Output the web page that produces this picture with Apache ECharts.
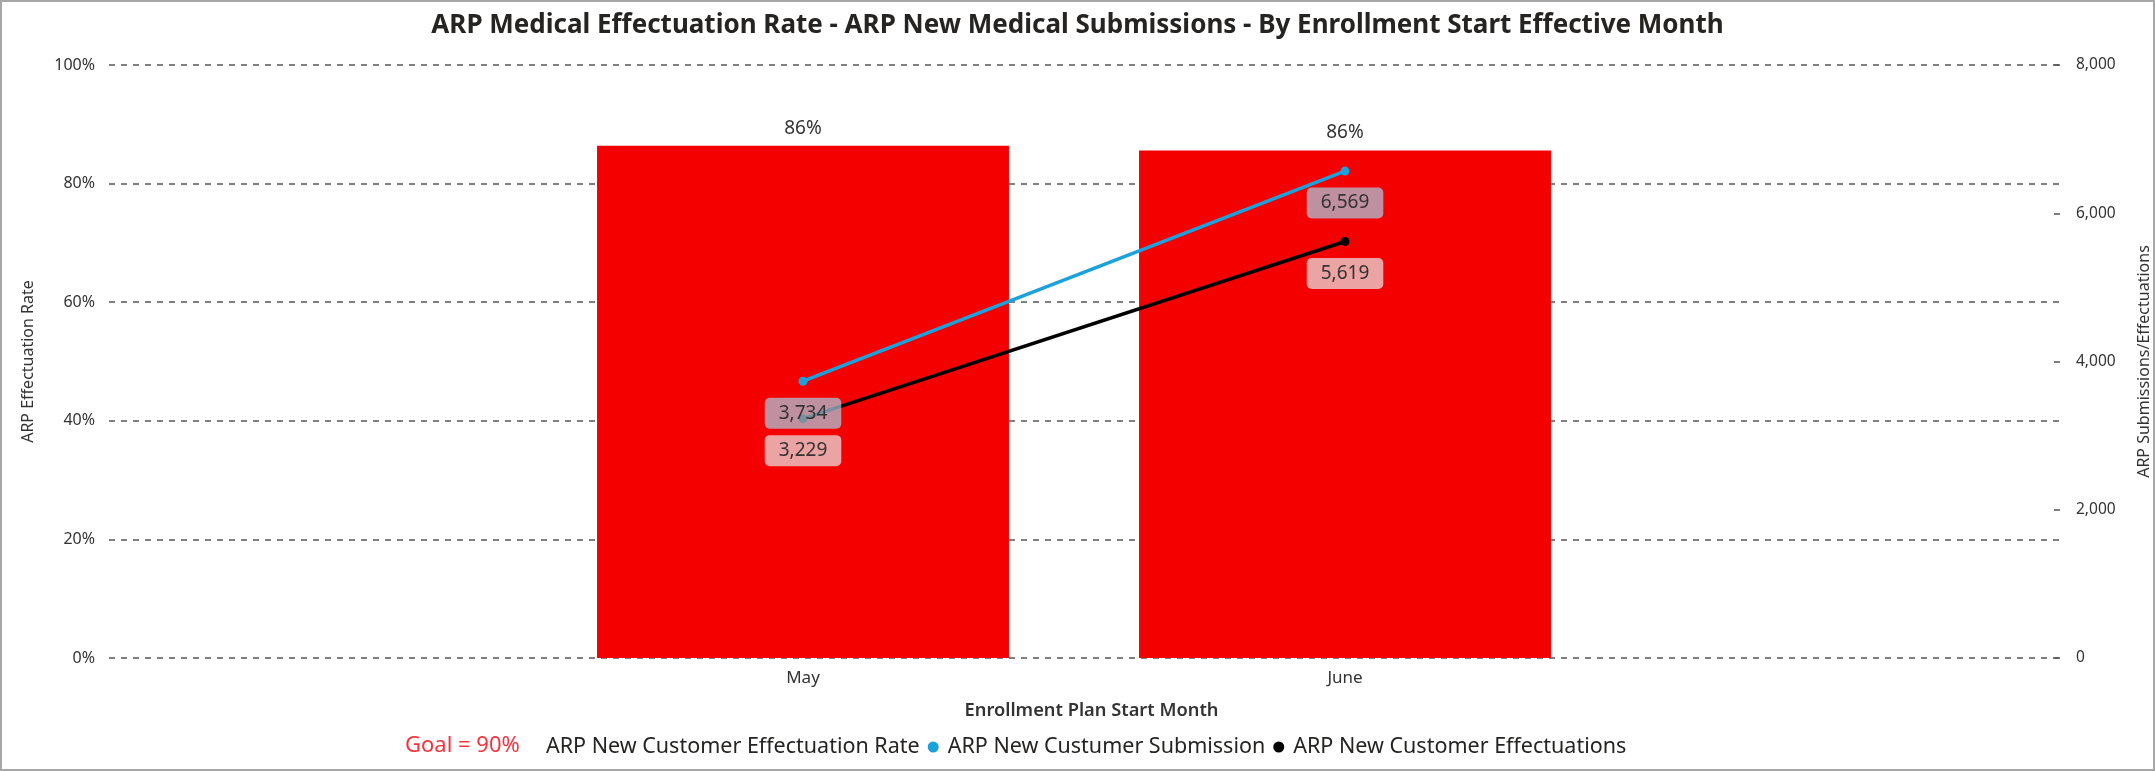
<!DOCTYPE html>
<html>
<head>
<meta charset="utf-8">
<script src="https://cdn.jsdelivr.net/npm/echarts@6/dist/echarts.min.js"></script>
<style>
  html, body { margin: 0; padding: 0; background: #fff; }
  #chart { width: 2155px; height: 771px; box-sizing: border-box; border: 2px solid #a6a6a6; }
</style>
</head>
<body>
<div id="chart"></div>
<script>
// values
const months = ['May', 'June'];
const effectuationRate = [0.864, 0.856];
const submissions = [3734, 6569];
const effectuations = [3229, 5619];
const goalText = 'Goal = 90%';

const FONT = "'Segoe UI', 'Noto Sans', sans-serif";
const TXT = '#333';

var myChart = echarts.init(document.getElementById('chart'));

const fmtNum = v => Number(v).toLocaleString('en-US');

var option = {
  textStyle: { fontFamily: FONT },
  title: [
    {
      text: 'ARP Medical Effectuation Rate - ARP New Medical Submissions - By Enrollment Start Effective Month',
      left: 'center', top: 6,
      textStyle: { fontSize: 26, fontWeight: 'bold', color: '#252423', fontFamily: FONT }
    },
    {
      text: goalText,
      left: 398, top: 728,
      textStyle: { fontSize: 22, fontWeight: 'normal', color: '#F5333F', fontFamily: FONT }
    }
  ],
  legend: {
    left: 515, top: 729,
    itemGap: 8, itemWidth: 19, itemHeight: 11,
    textStyle: { fontSize: 21.5, color: '#252423', fontFamily: FONT },
    data: [
      { name: 'ARP New Customer Effectuation Rate', icon: 'none' },
      { name: 'ARP New Custumer Submission', icon: 'circle' },
      { name: 'ARP New Customer Effectuations', icon: 'circle' }
    ]
  },
  grid: [
    { left: 107, right: 93, top: 63, bottom: 111, outerBoundsMode: 'none' },
    { left: 530, right: 537, top: 63, bottom: 111, outerBoundsMode: 'none' }
  ],
  xAxis: [
    {
      gridIndex: 0, type: 'category', data: months,
      axisLine: { show: false }, axisTick: { show: false }, axisLabel: { show: false },
      name: 'Enrollment Plan Start Month', nameLocation: 'middle', nameGap: 44,
      nameTextStyle: { fontSize: 18.3, fontWeight: 600, color: TXT, padding: [0, 0, 0, 14] }
    },
    {
      gridIndex: 1, type: 'category', data: months,
      axisLine: { show: false }, axisTick: { show: false },
      axisLabel: { fontSize: 17, color: TXT, margin: 12 }
    }
  ],
  yAxis: [
    {
      gridIndex: 0, type: 'value', min: 0, max: 1, interval: 0.2,
      axisLine: { show: false }, axisTick: { show: false },
      axisLabel: { fontSize: 16, color: TXT, margin: 14, formatter: v => Math.round(v * 100) + '%' },
      splitLine: { lineStyle: { type: [6, 6], color: '#555', width: 1.5 } },
      name: 'ARP Effectuation Rate', nameLocation: 'middle', nameGap: 73, nameRotate: 90,
      nameTextStyle: { fontSize: 16, color: TXT }
    },
    {
      gridIndex: 0, type: 'value', position: 'right', min: 0, max: 8000, interval: 2000,
      axisLine: { show: false },
      axisTick: { show: true, inside: true, length: 6, lineStyle: { color: '#555', width: 1.5 } },
      axisLabel: { fontSize: 15.5, color: TXT, margin: 16, formatter: fmtNum },
      splitLine: { show: false },
      name: 'ARP Submissions/Effectuations', nameLocation: 'middle', nameGap: 76, nameRotate: 90,
      nameTextStyle: { fontSize: 16, color: TXT }
    },
    { gridIndex: 1, type: 'value', min: 0, max: 1, show: false },
    { gridIndex: 1, type: 'value', min: 0, max: 8000, show: false }
  ],
  series: [
    {
      name: 'ARP New Customer Effectuation Rate', type: 'bar',
      xAxisIndex: 1, yAxisIndex: 2, data: effectuationRate,
      barWidth: '76%', itemStyle: { color: '#F40000' },
      label: {
        show: true, position: 'top', distance: 8, fontSize: 19, color: TXT,
        formatter: p => Math.round(p.value * 100) + '%'
      }
    },
    {
      name: 'ARP New Custumer Submission', type: 'line',
      xAxisIndex: 1, yAxisIndex: 3, data: submissions,
      color: '#1BA1DB', lineStyle: { width: 3.5 },
      symbol: 'circle', symbolSize: 9,
      label: {
        show: true, position: 'bottom', distance: 12, fontSize: 19, color: TXT,
        backgroundColor: 'rgba(170,200,220,0.72)', padding: [6, 14], borderRadius: 5,
        formatter: p => fmtNum(p.value)
      }
    },
    {
      name: 'ARP New Customer Effectuations', type: 'line',
      xAxisIndex: 1, yAxisIndex: 3, data: effectuations,
      color: '#000', lineStyle: { width: 3.5 },
      symbol: 'circle', symbolSize: 9,
      label: {
        show: true, position: 'bottom', distance: 12, fontSize: 19, color: TXT,
        backgroundColor: 'rgba(232,232,232,0.7)', padding: [6, 14], borderRadius: 5,
        formatter: p => fmtNum(p.value)
      }
    }
  ]
};

myChart.setOption(option);
</script>
</body>
</html>
